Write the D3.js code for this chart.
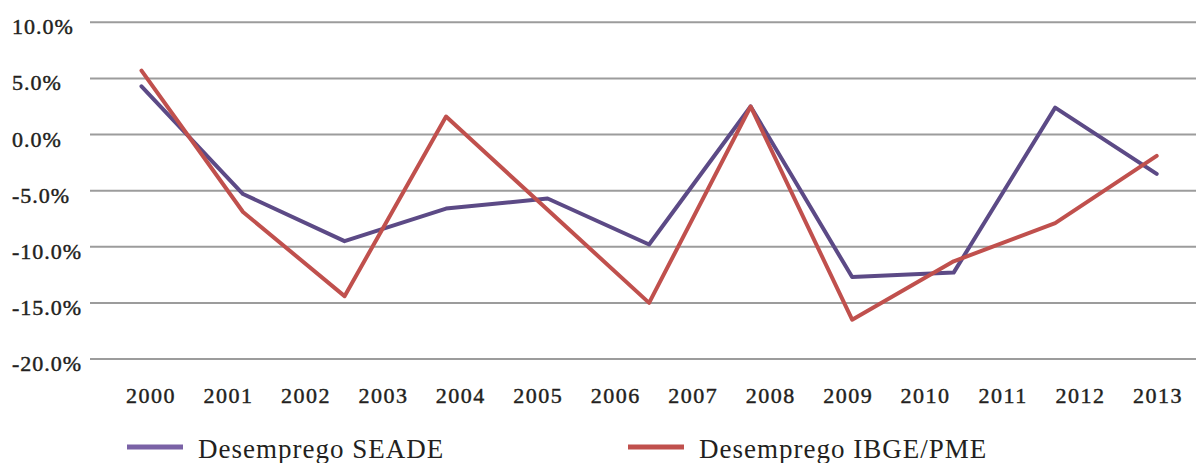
<!DOCTYPE html>
<html>
<head>
<meta charset="utf-8">
<script src="https://cdn.jsdelivr.net/npm/d3@7/dist/d3.min.js"></script>
<style>
  html, body { margin: 0; padding: 0; background: #fff; }
  svg { display: block; }
  text { font-family: "Liberation Serif", "DejaVu Serif", serif; fill: #231f20; }
  .tick-label { stroke: #231f20; stroke-width: 0.45; }
</style>
</head>
<body>
<svg id="chart" width="1196" height="463"></svg>
<script>
// Category labels along the bottom axis
const years = ["2000", "2001", "2002", "2003", "2004", "2005", "2006",
               "2007", "2008", "2009", "2010", "2011", "2012", "2013"];

// Value axis ticks (percent)
const yTicks = [10, 5, 0, -5, -10, -15, -20];

// Annual variation (%) of the two unemployment series
const seadeValues = [4.3, -5.3, -9.5, -6.6, -5.7, -9.8, 2.5, -12.7, -12.3, 2.4, -3.5];
const ibgeValues  = [5.7, -6.9, -14.4, 1.6, -6.7, -15.0, 2.5, -16.5, -11.3, -7.9, -1.9];

const seriesNames  = ["Desemprego SEADE", "Desemprego IBGE/PME"];
const lineColors   = ["#5c4a86", "#c0504d"];
const legendColors = ["#7a62a6", "#c0504d"];

const svg = d3.select("#chart");

const y = d3.scaleLinear().domain([-20, 10]).range([359, 22.3]);
const xLabels = d3.scalePoint().domain(years).range([151, 1158]);
const xLine = d3.scalePoint().domain(d3.range(seadeValues.length)).range([141.5, 1156.7]);

// Horizontal gridlines
svg.append("g")
  .selectAll("line")
  .data(yTicks)
  .join("line")
  .attr("x1", 90).attr("x2", 1196)
  .attr("y1", d => y(d)).attr("y2", d => y(d))
  .attr("stroke", "#9c9c9c")
  .attr("stroke-width", 2);

// Value labels, left aligned
svg.append("g")
  .selectAll("text")
  .data(yTicks)
  .join("text")
  .attr("class", "tick-label")
  .attr("x", 12)
  .attr("y", d => y(d) + 12)
  .attr("font-size", 22)
  .attr("letter-spacing", 1)
  .text(d => d3.format(".1f")(d).replace("−", "-") + "%");

// Year labels
svg.append("g")
  .selectAll("text")
  .data(years)
  .join("text")
  .attr("class", "tick-label")
  .attr("x", d => xLabels(d))
  .attr("y", 403)
  .attr("text-anchor", "middle")
  .attr("font-size", 22)
  .attr("letter-spacing", 1.5)
  .text(d => d);

// Series lines
const line = d3.line()
  .x((d, i) => xLine(i))
  .y(d => y(d));

[seadeValues, ibgeValues].forEach((vals, k) => {
  svg.append("path")
    .datum(vals)
    .attr("d", line)
    .attr("fill", "none")
    .attr("stroke", lineColors[k])
    .attr("stroke-width", 4)
    .attr("stroke-linejoin", "round")
    .attr("stroke-linecap", "round");
});

// Legend
const legendX = [127, 628];
const legend = svg.append("g")
  .selectAll("g")
  .data(seriesNames)
  .join("g")
  .attr("transform", (d, i) => `translate(${legendX[i]},0)`);

legend.append("rect")
  .attr("x", 0).attr("y", 444.5)
  .attr("width", 56).attr("height", 5)
  .attr("fill", (d, i) => legendColors[i]);

legend.append("text")
  .attr("x", 71)
  .attr("y", 458)
  .attr("font-size", 27)
  .attr("letter-spacing", 1)
  .text(d => d);
</script>
</body>
</html>
